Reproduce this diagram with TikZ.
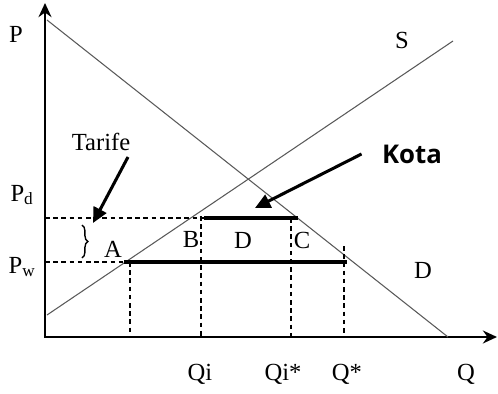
\documentclass[tikz,border=0pt]{standalone}
\usepackage{fontspec}
\setmainfont{Liberation Serif}
\newfontfamily\kotafont{Open Sans}
\usetikzlibrary{arrows.meta, decorations.pathreplacing}

\begin{document}
\begin{tikzpicture}[
    x=0.03cm, y=-0.03cm,
    font=\fontsize{21}{24}\selectfont,
    axis/.style={line width=2.4pt, {Stealth[length=12pt, width=11pt]}-{Stealth[length=12pt, width=11pt]}},
    curve/.style={line width=0.9pt, black!65},
    guide/.style={line width=1.7pt, dash pattern=on 4pt off 3pt},
    quota/.style={line width=3.4pt},
    pointer/.style={line width=2.6pt, -{Triangle[length=13pt, width=12pt]}},
]
\useasboundingbox (0,0) rectangle (498,394);

% sumbu
\coordinate (Ptop) at (45,3);
\coordinate (O)    at (45,337);
\coordinate (Qend) at (497,337);
\draw[axis] (Ptop) -- (O) -- (Qend);

% permintaan dan penawaran
\coordinate (D1) at (47,20);
\coordinate (D2) at (448,337);
\coordinate (S1) at (47,315);
\coordinate (S2) at (453,41);
\draw[curve] (D1) -- (D2);
\draw[curve] (S1) -- (S2);

% harga domestik dan dunia
\coordinate (Pd)  at (45,218);
\coordinate (Pw)  at (45,262);
\coordinate (Apt) at (124,262);
\coordinate (Bpt) at (204,218);
\coordinate (Cpt) at (298,218);
\coordinate (Qpt) at (347,262);
\draw[guide] (Pd) -- (Bpt);
\draw[guide] (Pw) -- (Apt);
\draw[quota] (Bpt) -- (Cpt);
\draw[quota] (Apt) -- (Qpt);

% garis bantu ke sumbu Q
\coordinate (Qa)    at (130,337);
\coordinate (Qi)    at (201,337);
\coordinate (Qis)   at (291,337);
\coordinate (Qst)   at (344,337);
\draw[guide] (130,262) -- (Qa);
\draw[guide] (201,216) -- (Qi);
\draw[guide] (291,218) -- (Qis);
\draw[guide] (344,246) -- (Qst);

% kurung tarif
\draw[line width=1.2pt, decorate, decoration={brace, amplitude=5pt}]
    (82,225) -- (82,258);

% label sumbu dan kurva
\node (lP)   at (16,34)  {P};
\node (lS)   at (402,40) {S};
\node (lD)   at (423,270) {D};
\node (lPd)  at (22,195) {P\textsubscript{d}};
\node (lPw)  at (22,267) {P\textsubscript{w}};
\node (lA)   at (113,249) {A};
\node (lB)   at (191,239) {B};
\node (lDq)  at (243,240) {D};
\node (lC)   at (302,240) {C};
\node (lQi)  at (200,374) {Qi};
\node (lQis) at (283,374) {Qi*};
\node (lQst) at (347,374) {Q*};
\node (lQ)   at (466,374) {Q};

% penunjuk
\node (tarif) at (101,142) {Tarife};
\node[font=\kotafont\bfseries\fontsize{22}{24}\selectfont] (kota) at (412,154) {Kota};
\coordinate (tarifTip) at (93,223);
\coordinate (kotaTip)  at (255,208);
\draw[pointer] (128,157) -- (tarifTip);
\draw[pointer] ([xshift=-14pt]kota.west) -- (kotaTip);

\end{tikzpicture}
\end{document}
